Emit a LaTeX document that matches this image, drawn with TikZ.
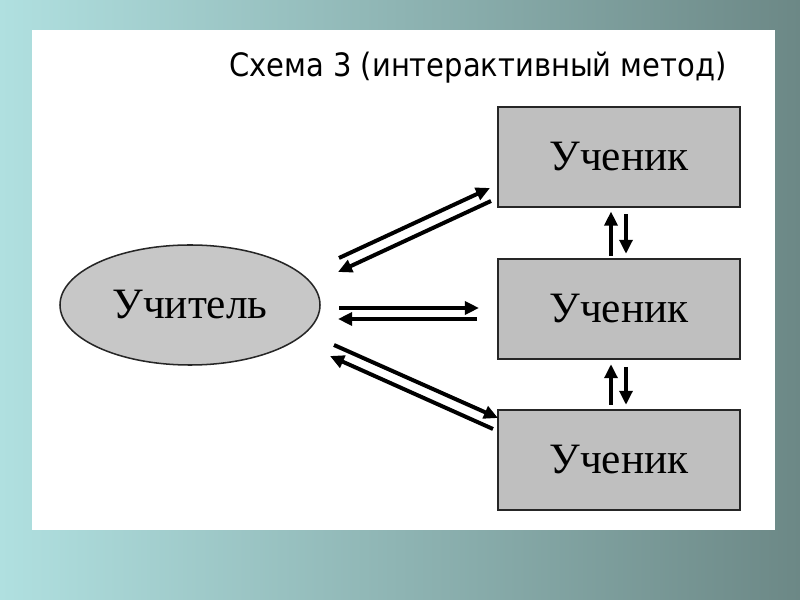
\documentclass[tikz,border=0pt]{standalone}
\usepackage{fontspec}
\setmainfont{Liberation Serif}
\newfontfamily\titlefont{DejaVu Sans Condensed}
\usetikzlibrary{shapes.geometric,arrows.meta}

\definecolor{slideleft}{RGB}{176,224,224}
\definecolor{slideright}{RGB}{108,136,134}

\begin{document}
\begin{tikzpicture}[x=0.03cm,y=-0.03cm,>={Triangle[length=12pt,width=11pt]},
  pupil/.style={draw=black!85,line width=2pt,fill=black!25,minimum width=7.26cm,minimum height=3cm,font=\fontsize{37}{40}\selectfont},
  master/.style={ellipse,draw=black!85,line width=1.3pt,fill=black!22,minimum width=7.8cm,minimum height=3.6cm,font=\fontsize{37}{40}\selectfont},
  link/.style={->,line width=3.4pt}]
% slide and white sheet
\shade[left color=slideleft,right color=slideright] (0,0) rectangle (800,600);
\fill[white] (32,30) rectangle (775,530);
\node[font=\titlefont\fontsize{27.5}{30}\selectfont] (title) at (478,68) {Схема 3 (интерактивный метод)};
% teacher and pupils
\node[master] (teacher) at (190,305) {Учитель};
\node[pupil] (s1) at (619,157) {Ученик};
\node[pupil] (s2) at (619,309) {Ученик};
\node[pupil] (s3) at (619,460) {Ученик};
% arrow ends
\coordinate (a1) at (339,258); \coordinate (b1) at (490,188);
\coordinate (c1) at (491,201); \coordinate (d1) at (338,272);
\coordinate (a2) at (339,308); \coordinate (b2) at (479,308);
\coordinate (c2) at (477,319); \coordinate (d2) at (338,319);
\coordinate (a3) at (334,345); \coordinate (b3) at (498,418);
\coordinate (c3) at (493,429); \coordinate (d3) at (330,356);
\draw[link] (a1) -- (b1);
\draw[link] (c1) -- (d1);
\draw[link] (a2) -- (b2);
\draw[link] (c2) -- (d2);
\draw[link] (a3) -- (b3);
\draw[link] (c3) -- (d3);
% between pupils
\draw[link] ([xshift=-0.24cm,yshift=0.06cm]s2.north) -- ([xshift=-0.24cm,yshift=-0.1cm]s1.south);
\draw[link] ([xshift=0.21cm,yshift=-0.18cm]s1.south) -- ([xshift=0.21cm,yshift=0.12cm]s2.north);
\draw[link] ([xshift=-0.24cm,yshift=0.12cm]s3.north) -- ([xshift=-0.24cm,yshift=-0.12cm]s2.south);
\draw[link] ([xshift=0.21cm,yshift=-0.2cm]s2.south) -- ([xshift=0.21cm,yshift=0.12cm]s3.north);
\end{tikzpicture}
\end{document}
